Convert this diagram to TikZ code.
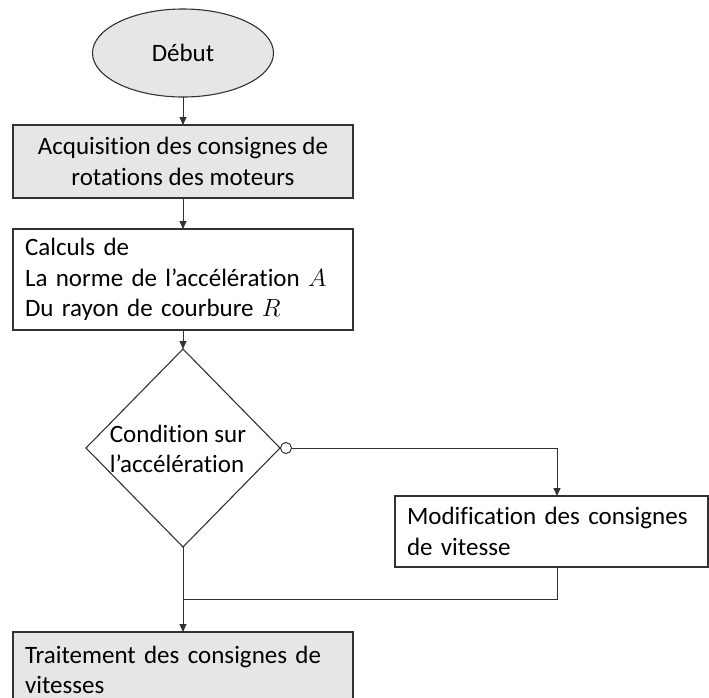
\documentclass[tikz,border=0pt]{standalone}
\usepackage{fontspec}
\setmainfont{Carlito}[Ligatures=NoCommon]
\usetikzlibrary{shapes.geometric,arrows.meta,calc}
\definecolor{boxgray}{RGB}{231,230,230}
\definecolor{linecol}{RGB}{50,50,50}
\tikzset{
  base/.style={draw=linecol, line width=1.1pt, outer sep=0pt, font=\fontsize{25}{30.5}\selectfont},
  startnode/.style={base, ellipse, fill=boxgray, minimum width=181pt, minimum height=88pt, inner sep=0pt},
  cbox/.style={base, rectangle, fill=boxgray, minimum width=340pt, align=center, inner sep=0pt},
  lbox/.style={base, rectangle, text width=316pt, inner xsep=12pt, inner ysep=0pt, align=left},
  condnode/.style={base, diamond, minimum width=194pt, minimum height=198pt, inner sep=0pt},
  conn/.style={draw=linecol, line width=1pt},
  tip/.style={-{Triangle[length=8pt,width=7pt]}}
}
\begin{document}
\begin{tikzpicture}[x=1pt,y=-1pt]
\path[use as bounding box, clip] (0,0) rectangle (709,697);
\node[startnode] (start) at (183,53) {Début};
\node[cbox, minimum height=73pt] (acq) at (183,161.5) {Acquisition des consignes de\\rotations des moteurs};
\node[lbox, minimum height=101pt] (calc) at (183,279.5) {Calculs de\\La norme de l’accélération $A$\\Du rayon de courbure $R$};
\node[condnode] (cond) at (183,448) {};
\node[base, draw=none, align=left, inner sep=0pt] (condtext) at (178,449) {Condition sur\\l’accélération};
\node[lbox, text width=289pt, minimum height=71pt] (modif) at (551.5,531.5) {Modification des consignes\\de vitesse};
\node[lbox, fill=boxgray, minimum height=76pt] (treat) at (183,670) {Traitement des consignes de\\vitesses};
\coordinate (modtop) at ($(modif.north)+(5.5,0)$);
\coordinate (modbot) at ($(modif.south)+(5.5,0)$);
\coordinate (join) at (183,599);
\draw[conn, tip] (start) -- (acq);
\draw[conn, tip] (acq) -- (calc);
\draw[conn, tip] (calc) -- (cond);
\draw[conn, {Circle[open,length=12pt,width=12pt]}-{Triangle[length=8pt,width=7pt]}] (cond.east) -| (modtop);
\draw[conn, tip] (cond.south) -- (treat.north);
\draw[conn] (modbot) |- (join);
\end{tikzpicture}
\end{document}
